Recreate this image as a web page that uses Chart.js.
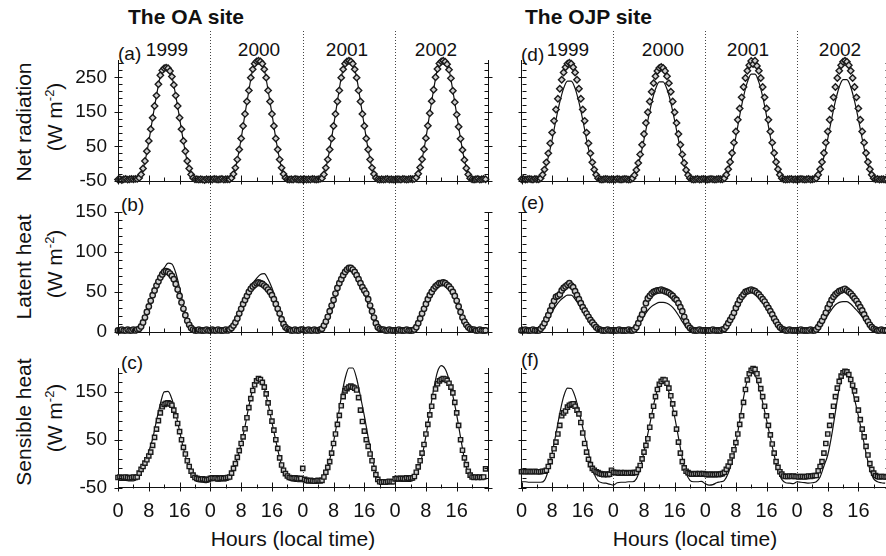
<!DOCTYPE html>
<html>
<head>
<meta charset="utf-8">
<script src="https://cdn.jsdelivr.net/npm/chart.js@4.4.0/dist/chart.umd.min.js"></script>
<style>
html, body { margin: 0; padding: 0; background: #fff; overflow: hidden; width: 886px; height: 556px; }
body { position: relative; font-family: "Liberation Sans", Arial, sans-serif; color: #111; }
canvas { position: absolute; }
.t { position: absolute; white-space: nowrap; line-height: 1; }
.c { transform: translateX(-50%); }
.rot { transform: translate(-50%, -50%) rotate(-90deg); }
sup { font-size: 13px; vertical-align: 8px; line-height: 0; }
</style>
</head>
<body>
<div class="t" style="left:128px;top:6px;font-size:21px;font-weight:bold">The OA site</div>
<div class="t" style="left:525px;top:6px;font-size:21px;font-weight:bold">The OJP site</div>

<div class="t c" style="left:167px;top:40px;font-size:19px">1999</div>
<div class="t c" style="left:259px;top:40px;font-size:19px">2000</div>
<div class="t c" style="left:347px;top:40px;font-size:19px">2001</div>
<div class="t c" style="left:436px;top:40px;font-size:19px">2002</div>
<div class="t c" style="left:568px;top:40px;font-size:19px">1999</div>
<div class="t c" style="left:663px;top:40px;font-size:19px">2000</div>
<div class="t c" style="left:748px;top:40px;font-size:19px">2001</div>
<div class="t c" style="left:840px;top:40px;font-size:19px">2002</div>

<div class="t" style="left:118px;top:44px;font-size:19px">(a)</div>
<div class="t" style="left:521px;top:45px;font-size:19px">(d)</div>
<div class="t" style="left:121px;top:195px;font-size:19px">(b)</div>
<div class="t" style="left:521px;top:193px;font-size:19px">(e)</div>
<div class="t" style="left:121px;top:353px;font-size:19px">(c)</div>
<div class="t" style="left:521px;top:350px;font-size:19px">(f)</div>

<div class="t rot" style="left:23px;top:122px;font-size:21px">Net radiation</div>
<div class="t rot" style="left:54px;top:117px;font-size:21px">(W m<sup>-2</sup>)</div>
<div class="t rot" style="left:23px;top:267px;font-size:21px">Latent heat</div>
<div class="t rot" style="left:54px;top:264px;font-size:21px">(W m<sup>-2</sup>)</div>
<div class="t rot" style="left:23px;top:422px;font-size:21px">Sensible heat</div>
<div class="t rot" style="left:54px;top:418px;font-size:21px">(W m<sup>-2</sup>)</div>

<div class="t c" style="left:293px;top:528px;font-size:21px">Hours (local time)</div>
<div class="t c" style="left:695px;top:528px;font-size:21px">Hours (local time)</div>

<canvas id="cA" width="505" height="190" style="left:0;top:0"></canvas>
<canvas id="cD" width="395" height="190" style="left:505px;top:0"></canvas>
<canvas id="cB" width="505" height="150" style="left:0;top:190px"></canvas>
<canvas id="cE" width="395" height="150" style="left:505px;top:190px"></canvas>
<canvas id="cC" width="505" height="216" style="left:0;top:340px"></canvas>
<canvas id="cF" width="395" height="216" style="left:505px;top:340px"></canvas>

<script>
// one row per year (1999..2002); observed = half-hourly, modelled = hourly
const years = ['1999', '2000', '2001', '2002'];
const hourTicks = [0, 8, 16, 24, 32, 40, 48, 56, 64, 72, 80, 88];
const hourLabels = ['0', '8', '16', '0', '8', '16', '0', '8', '16', '0', '8', '16'];
const netTicks = [-50, 50, 150, 250];
const leTicks = [0, 50, 100, 150];
const shTicks = [-50, 50, 150];

// net radiation, OA site
const oaNetObs = [
  [-46,-45,-47,-45,-44,-46,-45,-44,-45,-44, -44,-41,-31,-14,8,36,66,100,133,167, 197,230,256,270,276,278,276,268,252,228, 197,167,133,100,66,36,8,-14,-31,-41, -45,-45,-46,-45,-46,-47,-45,-46],
  [-45,-46,-44,-45,-46,-45,-44,-46,-45,-45, -45,-41,-30,-12,12,41,73,109,144,180, 212,249,273,289,296,298,296,289,273,249, 212,180,144,109,73,41,12,-12,-30,-41, -45,-46,-45,-46,-44,-45,-46,-45],
  [-46,-45,-46,-45,-46,-44,-45,-46,-45,-44, -42,-31,-12,12,41,73,109,144,180,212, 249,273,289,296,298,296,289,273,249,212, 180,144,109,73,41,12,-12,-30,-41,-45, -46,-45,-46,-45,-44,-46,-45,-46],
  [-46,-45,-45,-46,-44,-45,-46,-45,-44,-45, -44,-40,-29,-11,13,42,74,110,146,181, 214,250,274,290,296,298,295,288,272,247, 211,178,142,107,72,40,11,-13,-31,-42, -45,-46,-45,-44,-46,-45,-44,-45]
];
const oaNetMod = [
  [-46,-46,-46,-46,-46,-46,-32,6,64,132,197,254,276,276,252,197,132,64,6,-32,-46,-46,-46,-46],
  [-46,-46,-46,-46,-46,-45,-30,12,73,144,212,273,296,296,273,212,144,73,12,-30,-45,-46,-46,-46],
  [-46,-46,-46,-46,-45,-41,-12,41,109,180,249,289,298,289,249,180,109,41,-12,-41,-45,-46,-46,-46],
  [-46,-46,-46,-46,-46,-45,-29,13,74,146,214,274,296,295,272,211,142,72,11,-31,-45,-46,-46,-46]
];

// net radiation, OJP site
const ojpNetObs = [
  [-45,-44,-46,-45,-44,-45,-46,-44,-45,-45, -42,-32,-17,4,30,59,90,124,157,188, 217,243,264,279,289,292,289,279,264,243, 217,188,157,124,90,59,30,4,-17,-32, -42,-45,-46,-45,-44,-45,-46,-45],
  [-45,-46,-44,-45,-46,-45,-44,-45,-46,-45, -42,-33,-18,2,27,55,86,118,149,180, 208,233,253,268,277,280,277,268,253,233, 208,180,149,118,86,55,27,2,-18,-33, -42,-45,-46,-45,-44,-46,-45,-44],
  [-45,-46,-45,-44,-45,-46,-45,-44,-45,-45, -42,-32,-16,5,31,61,93,127,160,192, 222,248,269,285,297,288,298,283,269,248, 222,192,160,127,93,61,31,5,-16,-32, -42,-45,-46,-45,-45,-44,-46,-45],
  [-46,-45,-44,-45,-46,-45,-44,-46,-45,-44, -42,-32,-16,5,31,61,93,127,160,192, 222,248,269,285,295,298,295,285,269,248, 222,192,160,127,93,61,31,5,-16,-32, -42,-45,-44,-46,-45,-45,-46,-45]
];
const ojpNetMod = [
  [-45,-45,-45,-45,-45,-42,-21,19,70,127,178,218,239,239,218,178,127,70,19,-21,-42,-45,-45,-45],
  [-45,-45,-45,-45,-45,-42,-21,18,70,125,177,216,237,237,216,177,125,70,18,-21,-42,-45,-45,-45],
  [-45,-45,-45,-45,-45,-42,-19,23,78,139,194,236,259,259,236,194,139,78,23,-19,-42,-45,-45,-45],
  [-45,-45,-45,-45,-45,-42,-21,20,72,129,181,222,243,243,222,181,129,72,20,-21,-42,-45,-45,-45]
];

// latent heat, OA site
const oaLeObs = [
  [2,2,3,2,2,3,2,2,3,2, 3,4,7,12,18,25,32,39,46,52, 58,63,68,72,75,76,75,73,70,66, 60,53,45,37,29,21,14,9,5,3, 2,2,3,2,2,2,3,2],
  [2,3,2,2,3,2,2,2,3,2, 3,5,8,12,17,23,29,35,40,45, 50,54,57,59,61,62,61,60,58,56, 53,50,46,41,35,29,23,16,10,6, 4,3,2,2,3,2,2,3],
  [3,2,2,3,2,2,3,2,2,3, 4,8,13,19,26,33,40,48,55,61, 66,71,75,78,80,80,78,75,71,66, 61,56,52,48,41,33,26,18,11,6, 4,3,3,2,2,3,2,2],
  [2,2,3,2,2,2,3,2,2,2, 3,6,11,17,23,29,35,41,46,50, 54,57,59,61,61,62,61,59,57,54, 50,45,39,32,25,18,13,9,6,4, 3,3,2,2,3,2,2,2]
];
const oaLeMod = [
  [1,1,1,1,1,2,6,16,30,46,60,74,80,86,85,74,55,33,15,5,2,1,1,1],
  [1,1,1,1,1,2,6,14,24,36,49,60,67,72,73,66,55,40,24,11,4,2,1,1],
  [1,1,1,1,1,2,8,20,35,50,63,73,78,77,70,60,48,34,20,8,3,2,1,1],
  [1,1,1,1,1,2,9,21,34,45,53,58,60,60,56,48,37,24,13,6,3,2,1,1]
];

// latent heat, OJP site
const ojpLeObs = [
  [2,2,3,2,2,2,3,2,2,2, 4,7,11,16,21,27,33,39,44,45, 47,52,55,57,59,61,58,56,51,46, 41,36,31,27,23,19,15,12,9,6, 4,3,2,2,2,3,2,2],
  [2,2,2,3,2,2,2,2,3,2, 2,3,6,11,17,22,28,36,42,45, 48,50,51,52,52,53,52,51,50,49, 47,45,42,40,36,31,26,19,13,8, 5,3,2,2,2,3,2,2],
  [2,2,2,2,3,2,2,2,2,3, 4,7,11,15,19,24,30,35,40,44, 47,50,51,52,53,52,51,49,47,44, 41,38,34,30,26,22,17,13,9,6, 4,3,2,2,3,2,2,2],
  [2,2,3,2,2,2,2,3,2,2, 3,6,10,14,19,24,30,35,40,44, 47,49,51,52,53,54,52,50,48,45, 42,39,35,31,27,22,17,13,9,6, 4,3,2,2,3,2,2,2]
];
const ojpLeMod = [
  [1,1,1,1,1,2,8,16,25,33,39,43,46,46,41,34,28,22,14,7,3,2,1,1],
  [1,1,1,1,1,2,5,12,20,27,32,35,37,37,36,33,28,21,13,6,3,2,1,1],
  [1,1,1,1,1,2,9,18,28,38,45,49,50,49,45,38,31,23,14,7,3,2,1,1],
  [1,1,1,1,1,2,6,13,21,28,34,37,38,38,35,30,25,19,12,6,3,2,1,1]
];

// sensible heat, OA site
const oaShObs = [
  [-29,-28,-30,-29,-28,-29,-30,-29,-28,-29, -28,-20,-12,-6,1,8,16,24,38,55, 72,90,106,119,124,126,127,125,122,112, 100,84,67,50,34,20,6,-6,-16,-24, -29,-31,-32,-33,-32,-33,-34,-33],
  [-31,-30,-31,-30,-32,-31,-30,-31,-30,-29, -28,-20,-10,0,13,27,42,56,73,96, 117,136,153,165,173,178,176,170,160,146, 127,107,89,70,50,32,12,-3,-14,-21, -26,-29,-30,-31,-30,-31,-32,-31],
  [-10,-33,-35,-36,-35,-36,-37,-36,-35,-36, -35,-28,-18,-8,4,22,42,62,82,101, 121,140,152,157,160,162,160,158,154,138, 112,88,68,50,36,20,6,-10,-23,-33, -38,-39,-38,-39,-38,-37,-38,-38],
  [-32,-31,-32,-31,-31,-32,-30,-31,-30,-30, -27,-18,-7,6,22,40,62,82,102,120, 140,156,167,173,176,178,177,174,168,160, 148,128,106,80,50,28,12,-2,-16,-24, -28,-29,-28,-29,-28,-29,-28,-11]
];
const oaShMod = [
  [-34,-35,-35,-36,-36,-32,-15,4,25,52,90,125,150,151,135,105,68,32,2,-22,-35,-38,-39,-40],
  [-35,-35,-36,-36,-36,-32,-14,12,42,78,120,155,175,176,158,125,86,48,12,-15,-30,-36,-37,-38],
  [-38,-39,-39,-40,-40,-36,-18,8,45,90,138,178,200,200,178,140,100,55,14,-20,-38,-42,-42,-41],
  [-36,-36,-37,-37,-37,-33,-15,15,58,108,155,192,205,198,176,142,102,55,10,-20,-30,-30,-31,-30]
];

// sensible heat, OJP site
const ojpShObs = [
  [-17,-16,-17,-17,-16,-17,-17,-16,-17,-17, -17,-16,-16,-14,-6,4,17,31,45,62, 80,100,106,110,118,122,124,125,120,112, 104,86,64,42,24,9,-2,-10,-14,-17, -19,-21,-22,-23,-22,-23,-22,-14],
  [-18,-19,-19,-20,-19,-20,-19,-20,-20,-19, -20,-19,-18,-12,-4,10,24,38,52,76, 100,120,140,155,166,172,176,175,168,158, 142,125,105,72,45,22,4,-9,-16,-19, -21,-22,-22,-21,-22,-21,-22,-21],
  [-22,-23,-23,-22,-23,-23,-22,-23,-22,-21, -18,-12,-5,3,16,29,44,62,82,100, 128,155,175,188,195,199,197,188,174,157, 140,120,100,80,60,41,22,4,-8,-17, -22,-26,-27,-27,-26,-27,-26,-27],
  [-27,-28,-27,-27,-28,-27,-26,-27,-26,-25, -25,-15,-6,4,22,42,62,80,100,120, 140,158,172,183,190,193,192,186,176,164, 152,135,112,92,72,56,36,18,0,-12, -20,-25,-27,-28,-27,-27,-28,-28]
];
const ojpShMod = [
  [-38,-38,-39,-39,-39,-39,-35,-14,22,62,105,140,158,157,140,110,75,40,5,-22,-36,-40,-41,-43],
  [-45,-40,-39,-39,-38,-38,-32,-10,25,62,102,140,165,172,162,135,98,55,12,-20,-35,-38,-38,-37],
  [-42,-45,-44,-40,-38,-35,-20,5,42,90,138,175,190,185,162,128,92,55,18,-15,-33,-40,-41,-42],
  [-38,-39,-40,-41,-40,-38,-28,-5,18,58,108,158,188,190,168,135,100,62,22,-12,-32,-38,-40,-41]
];

const font = '"Liberation Sans", Arial, sans-serif';

function toPoints(days, step) {
  const pts = [];
  days.forEach((day, d) => day.forEach((v, i) => pts.push({ x: d * 24 + i * step, y: v })));
  return pts;
}

// axis frame: right axis line, crossing major / inward minor ticks, dotted year separators
const frame = {
  id: 'frame',
  beforeDatasetsDraw(chart, args, o) {
    const { ctx, chartArea: a, scales: { x } } = chart;
    ctx.save();
    ctx.strokeStyle = '#444';
    ctx.lineWidth = 1;
    ctx.setLineDash([1, 2]);
    [24, 48, 72].forEach(h => {
      const px = Math.round(x.getPixelForValue(h)) + 0.5;
      ctx.beginPath();
      ctx.moveTo(px, o.dotTop);
      ctx.lineTo(px, o.dotBottom === null ? a.bottom : o.dotBottom);
      ctx.stroke();
    });
    ctx.restore();
  },
  afterDatasetsDraw(chart, args, o) {
    const { ctx, chartArea: a, scales: { x, y } } = chart;
    ctx.save();
    ctx.strokeStyle = '#111';
    ctx.lineWidth = 1;
    const seg = (x1, y1, x2, y2) => { ctx.beginPath(); ctx.moveTo(x1, y1); ctx.lineTo(x2, y2); ctx.stroke(); };
    const l = Math.round(a.left) + 0.5, r = Math.round(a.right) + 0.5, b = Math.round(a.bottom) + 0.5;
    seg(r, a.top, r, b);
    for (let v = y.min; v <= y.max; v += o.minor) {
      const py = Math.round(y.getPixelForValue(v)) + 0.5;
      const major = o.majors.includes(v);
      seg(major ? l - 4 : l, py, l + 4, py);
      seg(r - 4, py, major ? r + 4 : r, py);
    }
    for (let h = 0; h <= 96; h += 4) {
      const px = Math.round(x.getPixelForValue(h)) + 0.5;
      const major = h % 8 === 0;
      seg(px, b - (major ? 6 : 4), px, b + (major ? 3 : 0));
    }
    ctx.restore();
  }
};

function panel(id, obs, mod, o) {
  new Chart(document.getElementById(id), {
    type: 'line',
    data: {
      datasets: [
        { data: toPoints(obs, 0.5), showLine: false, clip: false, pointStyle: o.marker, pointRadius: o.radius,
          pointBorderWidth: 1.4, pointBorderColor: '#1a1a1a', pointBackgroundColor: '#d0d0d0' },
        { data: toPoints(mod, 1), clip: false, borderColor: '#111', borderWidth: 1.2, pointRadius: 0,
          cubicInterpolationMode: 'monotone' }
      ]
    },
    options: {
      responsive: false,
      animation: false,
      devicePixelRatio: 1,
      layout: { autoPadding: false, padding: { top: o.top, right: o.right, left: 0, bottom: 0 } },
      plugins: {
        legend: { display: false },
        tooltip: { enabled: false },
        frame: { minor: o.minor, majors: o.ticks, dotTop: o.dotTop, dotBottom: o.dotBottom }
      },
      scales: {
        x: {
          type: 'linear', min: 0, max: 96,
          grid: { display: false, drawTicks: false },
          border: { color: '#111' },
          afterBuildTicks: s => { s.ticks = hourTicks.map(v => ({ value: v })); },
          afterFit: s => { s.height = o.xh; s.paddingLeft = 0; s.paddingRight = 0; },
          ticks: { display: o.xLabels, autoSkip: false, maxRotation: 0, padding: 12, color: '#111',
            font: { family: font, size: 20 }, callback: v => hourLabels[hourTicks.indexOf(v)] }
        },
        y: {
          min: o.min, max: o.max,
          grid: { display: false, drawTicks: false },
          border: { color: '#111' },
          afterBuildTicks: s => { s.ticks = o.ticks.map(v => ({ value: v })); },
          afterFit: s => { s.width = o.yw; s.paddingTop = 0; s.paddingBottom = 0; },
          ticks: { display: o.yLabels, padding: 11, color: '#111', font: { family: font, size: 19 } }
        }
      }
    },
    plugins: [frame]
  });
}

const left = { yw: 118, right: 17.5, yLabels: true };
const right = { yw: 16.5, right: 11, yLabels: false };
const rowNet = { min: -50, max: 300, ticks: netTicks, minor: 20, top: 60, xh: 9, xLabels: false, dotTop: 31, dotBottom: 190, marker: 'rectRot', radius: 3.2 };
const rowLe = { min: 0, max: 150, ticks: leTicks, minor: 10, top: 22, xh: 8, xLabels: false, dotTop: 0, dotBottom: 150, marker: 'circle', radius: 2.7 };
const rowSh = { min: -50, max: 200, ticks: shTicks, minor: 20, top: 28, xh: 68.5, xLabels: true, dotTop: 0, dotBottom: null, marker: 'rect', radius: 3 };

panel('cA', oaNetObs, oaNetMod, { ...left, ...rowNet });
panel('cD', ojpNetObs, ojpNetMod, { ...right, ...rowNet });
panel('cB', oaLeObs, oaLeMod, { ...left, ...rowLe });
panel('cE', ojpLeObs, ojpLeMod, { ...right, ...rowLe });
panel('cC', oaShObs, oaShMod, { ...left, ...rowSh });
panel('cF', ojpShObs, ojpShMod, { ...right, ...rowSh });
</script>
</body>
</html>
